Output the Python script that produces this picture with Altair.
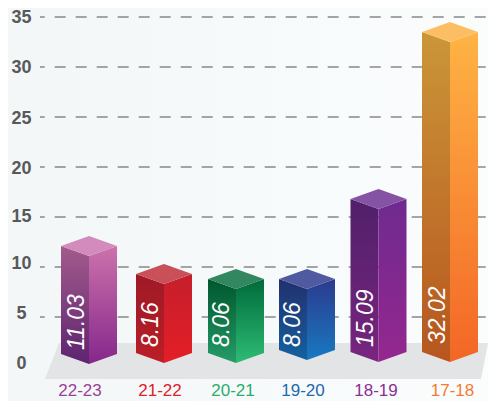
import altair as alt
import pandas as pd

categories = ["22-23", "21-22", "20-21", "19-20", "18-19", "17-18"]
values = [11.03, 8.16, 8.06, 8.06, 15.09, 32.02]
cat_colors = ["#9c3f96", "#e0202c", "#2bab6c", "#2268ad", "#8b2f93", "#f57a30"]

# horizontal scale is in drawing units
bar_center = [89, 164, 236, 307, 378.5, 450]
label_center = [80, 160, 233, 303, 376, 452.5]
text_x = [77, 151, 222, 293, 366, 438]
# drawn heights as read against the axis (front corner)
front_top = [11.1, 8.3, 7.8, 7.8, 15.8, 32.5]
front_bottom = [0.3, 0.4, 0.4, 0.7, 0.5, 0.5]
text_base = [1.7, 2.0, 2.0, 2.0, 2.0, 2.3]

left_grad = [("#a35b8c", "#5e2471"), ("#9e1a26", "#bb1e27"), ("#00562e", "#259c68"),
             ("#232f6e", "#14619f"), ("#50206a", "#7a2580"), ("#cb9638", "#b7561f")]
right_grad = [("#cc72ab", "#85278b"), ("#c51f2c", "#e41e26"), ("#006a3a", "#2dbc75"),
              ("#2b3a8e", "#1879c1"), ("#6f2a8f", "#94278f"), ("#feb444", "#f36626")]
top_color = ["#d38abd", "#c94f59", "#328660", "#4f5aa0", "#8553a4", "#fdbe63"]

grid_values = [5, 10, 15, 20, 25, 30, 35]
tick_positions = [0.4, 5.4, 10.4, 15.1, 19.9, 24.9, 30.0, 35.0]

floor_x = [45, 59, 481, 488]
floor_upper = [-1.2, 2.4, 2.4, 2.4]
floor_lower = [-1.2, -1.2, -1.2, 2.4]

half_w = 28
rise = 1.0
W, H = 448, 393
DOM_X = [40, 488]
DOM_Y = [35.9 - H / 10, 35.9]

xs = alt.X("x:Q", scale=alt.Scale(domain=DOM_X), axis=None)
y_axis = alt.Axis(
    values=tick_positions, labelExpr="round(datum.value)", grid=False, ticks=False,
    domain=False, title=None, labelFont="Liberation Sans", labelFontWeight="bold",
    labelFontSize=18, labelColor="#58595b", labelAlign="center", labelPadding=19,
    labelBaseline="middle",
)
ys = alt.Y("y:Q", scale=alt.Scale(domain=DOM_Y), axis=y_axis)


def grad(c):
    return alt.LinearGradient(
        gradient="linear", x1=0, y1=0, x2=0, y2=1,
        stops=[alt.GradientStop(color=c[0], offset=0), alt.GradientStop(color=c[1], offset=1)],
    )


def area(rows, color):
    df = pd.DataFrame(rows, columns=["x", "y", "y2"])
    return alt.Chart(df).mark_area(color=color, line=False, interpolate="linear").encode(
        x=xs, y=ys, y2="y2:Q"
    )


bg = alt.Chart(pd.DataFrame({"a": [0]})).mark_rect(
    color=alt.LinearGradient(
        gradient="linear", x1=0, y1=0, x2=1, y2=0,
        stops=[alt.GradientStop(color="#f3f7f8", offset=0), alt.GradientStop(color="#fbfdfd", offset=1)],
    )
).encode(x=alt.value(0), x2=alt.value(W), y=alt.value(0), y2=alt.value(H))

grid = alt.Chart(pd.DataFrame({"y": grid_values})).mark_rule(
    color="#868889", strokeWidth=1.3, strokeDash=[11, 10], strokeDashOffset=6.3
).encode(y=ys, x=alt.value(0), x2=alt.value(W))

floor = area(list(zip(floor_x, floor_upper, floor_lower)), "#e2e4e5")

layers = [bg, grid, floor]
for i in range(len(categories)):
    c = bar_center[i]
    ft, fb = front_top[i], front_bottom[i]
    xl, xr = c - half_w, c + half_w
    layers.append(area([(xl, ft + rise, fb + rise), (c, ft, fb)], grad(left_grad[i])))
    layers.append(area([(c, ft, fb), (xr, ft + rise, fb + rise)], grad(right_grad[i])))
    layers.append(area([(xl, ft + rise, ft + rise), (c, ft + 2 * rise, ft), (xr, ft + rise, ft + rise)], top_color[i]))

bar_text = pd.DataFrame({"x": text_x, "y": text_base, "t": [f"{v:.2f}" for v in values]})
layers.append(
    alt.Chart(bar_text).mark_text(
        angle=270, align="left", baseline="middle", font="Liberation Sans", fontStyle="italic",
        fontSize=23, color="#000000", stroke="#000000", strokeWidth=7, strokeOpacity=0.07, opacity=0.07,
    ).encode(x=xs, y=ys, text="t:N")
)
layers.append(
    alt.Chart(bar_text).mark_text(
        angle=270, align="left", baseline="middle", font="Liberation Sans", fontStyle="italic",
        fontSize=23, color="white",
    ).encode(x=xs, y=ys, text="t:N")
)

cat_df = pd.DataFrame({"x": label_center, "t": categories, "c": cat_colors, "y": [-2.35] * 6})
layers.append(
    alt.Chart(cat_df).mark_text(font="Liberation Sans", fontSize=17, baseline="middle").encode(
        x=xs, y=ys, text="t:N", color=alt.Color("c:N", scale=None)
    )
)

chart = alt.layer(*layers).properties(
    width=W,
    height=H,
    padding={"left": 32, "right": 0, "top": 0, "bottom": 0},
    autosize=alt.AutoSizeParams(type="none"),
    background="#f3f7f8",
).configure_view(stroke=None)

chart.save("out.html", embed_options={"renderer": "svg", "actions": False})
